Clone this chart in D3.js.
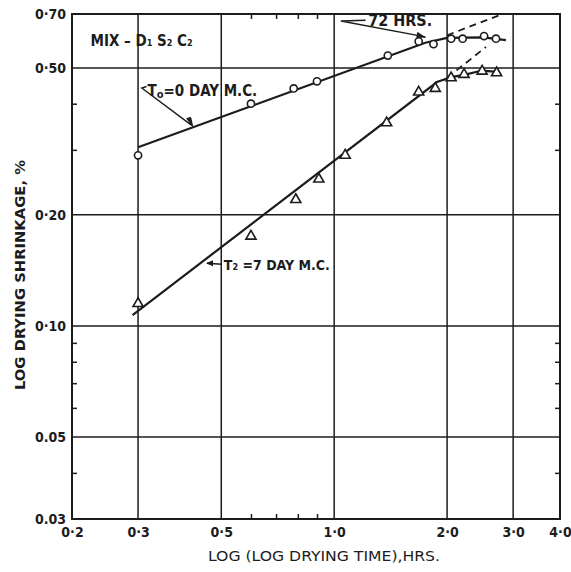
<!DOCTYPE html>
<html>
<head>
    <title>Log drying shrinkage</title>
    <script src="https://cdn.jsdelivr.net/npm/d3@7"></script>
    <style>
        body { margin: 0; background: #fff; }
        text { font-family: "DejaVu Sans Condensed", "DejaVu Sans", sans-serif; fill: #1c1c1c; }
    </style>
</head>
<body>
<script>
    var w = 571;
    var h = 572;

    // axis ticks
    var xTicks = [0.2, 0.3, 0.5, 1.0, 2.0, 3.0, 4.0];
    var xTickLabels = ["0·2", "0·3", "0·5", "1·0", "2·0", "3·0", "4·0"];
    var xGrid = [0.3, 0.5, 1.0, 2.0, 3.0];
    var xMinor = [0.6, 0.7, 0.8, 0.9];
    var yTicks = [0.03, 0.05, 0.10, 0.20, 0.50, 0.70];
    var yTickLabels = ["0.03", "0.05", "0·10", "0·20", "0·50", "0·70"];
    var yGrid = [0.05, 0.10, 0.20, 0.50];
    var yMinor = [0.04, 0.06, 0.07, 0.08, 0.09, 0.3, 0.4];

    // T0 = 0 day M.C. (circles)
    var t0Time   = [0.30, 0.60, 0.78, 0.90, 1.39, 1.68, 1.84, 2.05, 2.20, 2.51, 2.70];
    var t0Shrink = [0.29, 0.40, 0.44, 0.46, 0.54, 0.59, 0.58, 0.60, 0.60, 0.61, 0.60];
    var t0LineTime   = [0.30, 1.75, 2.0, 2.5, 2.87];
    var t0LineShrink = [0.305, 0.585, 0.603, 0.605, 0.595];
    var t0DashTime   = [2.0, 2.81];
    var t0DashShrink = [0.613, 0.70];

    // T2 = 7 day M.C. (triangles)
    var t2Time   = [0.30, 0.60, 0.79, 0.91, 1.07, 1.38, 1.68, 1.86, 2.05, 2.22, 2.48, 2.71];
    var t2Shrink = [0.115, 0.175, 0.22, 0.25, 0.29, 0.355, 0.43, 0.44, 0.47, 0.48, 0.49, 0.485];
    var t2LineTime   = [0.29, 1.88, 2.05, 2.22, 2.48, 2.72];
    var t2LineShrink = [0.107, 0.458, 0.472, 0.479, 0.492, 0.488];
    var t2DashTime   = [2.0, 2.54];
    var t2DashShrink = [0.47, 0.57];

    var ink = "#1c1c1c";

    //scales
    var xScale = d3.scaleLog().domain([0.2, 4.0]).range([72, 560]);
    var yScale = d3.scaleLog().domain([0.03, 0.70]).range([519, 14]);

    var svg = d3.select("body")
                .append("svg")
                .attr("width", w)
                .attr("height", h);

    svg.append("rect").attr("width", w).attr("height", h).attr("fill", "#fff");

    // grid
    svg.selectAll("line.vgrid")
       .data(xGrid)
       .enter()
       .append("line")
       .attr("x1", function(d){return xScale(d);})
       .attr("x2", function(d){return xScale(d);})
       .attr("y1", yScale(0.03))
       .attr("y2", yScale(0.70))
       .attr("stroke", ink)
       .attr("stroke-width", 1.5);
    svg.selectAll("line.hgrid")
       .data(yGrid)
       .enter()
       .append("line")
       .attr("x1", xScale(0.2))
       .attr("x2", xScale(4.0))
       .attr("y1", function(d){return yScale(d);})
       .attr("y2", function(d){return yScale(d);})
       .attr("stroke", ink)
       .attr("stroke-width", 1.5);

    // inner minor ticks
    var tickLen = 5;
    svg.append("g").attr("transform", "translate(0," + yScale(0.03) + ")")
       .call(d3.axisBottom(xScale).tickValues(xMinor).tickSize(-tickLen).tickFormat(""));
    svg.append("g").attr("transform", "translate(0," + yScale(0.70) + ")")
       .call(d3.axisTop(xScale).tickValues(xMinor).tickSize(-tickLen).tickFormat(""));
    svg.append("g").attr("transform", "translate(" + xScale(0.2) + ",0)")
       .call(d3.axisLeft(yScale).tickValues(yMinor).tickSize(-tickLen).tickFormat(""));
    svg.append("g").attr("transform", "translate(" + xScale(4.0) + ",0)")
       .call(d3.axisRight(yScale).tickValues(yMinor).tickSize(-tickLen).tickFormat(""));
    svg.selectAll(".domain").remove();
    svg.selectAll(".tick line").attr("stroke", ink).attr("stroke-width", 1.5);

    // frame
    svg.append("rect")
       .attr("x", xScale(0.2))
       .attr("y", yScale(0.70))
       .attr("width", xScale(4.0) - xScale(0.2))
       .attr("height", yScale(0.03) - yScale(0.70))
       .attr("fill", "none")
       .attr("stroke", ink)
       .attr("stroke-width", 2);

    // tick labels
    var xLab = svg.append("g").attr("transform", "translate(0," + yScale(0.03) + ")")
       .call(d3.axisBottom(xScale).tickValues(xTicks).tickSize(0).tickPadding(8)
               .tickFormat(function(d, i){return xTickLabels[i];}));
    var yLab = svg.append("g").attr("transform", "translate(" + xScale(0.2) + ",0)")
       .call(d3.axisLeft(yScale).tickValues(yTicks).tickSize(0).tickPadding(6)
               .tickFormat(function(d, i){return yTickLabels[i];}));
    xLab.select(".domain").remove();
    yLab.select(".domain").remove();
    svg.selectAll(".tick text")
       .attr("font-family", "'DejaVu Sans Condensed', 'DejaVu Sans', sans-serif")
       .attr("font-size", 14)
       .attr("font-weight", "bold")
       .attr("fill", ink);

    // axis titles
    svg.append("text")
       .attr("x", 324)
       .attr("y", 561)
       .attr("text-anchor", "middle")
       .attr("font-size", 14)
       .attr("textLength", 232)
       .attr("lengthAdjust", "spacingAndGlyphs")
       .text("LOG (LOG DRYING TIME),HRS.");
    svg.append("text")
       .attr("transform", "translate(25,275) rotate(-90)")
       .attr("text-anchor", "middle")
       .attr("font-size", 14)
       .attr("font-weight", "bold")
       .attr("textLength", 230)
       .attr("lengthAdjust", "spacingAndGlyphs")
       .text("LOG DRYING SHRINKAGE, %");

    // lines
    var line = d3.line()
                 .x(function(d){return xScale(d[0]);})
                 .y(function(d){return yScale(d[1]);});
    function pairs(a, b){ return a.map(function(v, i){return [v, b[i]];}); }

    svg.append("path").datum(pairs(t0LineTime, t0LineShrink))
       .attr("d", line).attr("fill", "none").attr("stroke", ink).attr("stroke-width", 2.2);
    svg.append("path").datum(pairs(t2LineTime, t2LineShrink))
       .attr("d", line).attr("fill", "none").attr("stroke", ink).attr("stroke-width", 2.2);
    svg.append("path").datum(pairs(t0DashTime, t0DashShrink))
       .attr("d", line).attr("fill", "none").attr("stroke", ink).attr("stroke-width", 1.8)
       .attr("stroke-dasharray", "7,5");
    svg.append("path").datum(pairs(t2DashTime, t2DashShrink))
       .attr("d", line).attr("fill", "none").attr("stroke", ink).attr("stroke-width", 1.8)
       .attr("stroke-dasharray", "7,5");

    // markers
    svg.selectAll("circle.t0")
       .data(pairs(t0Time, t0Shrink))
       .enter()
       .append("circle")
       .attr("cx", function(d){return xScale(d[0]);})
       .attr("cy", function(d){return yScale(d[1]);})
       .attr("r", 3.6)
       .attr("fill", "#fff")
       .attr("stroke", ink)
       .attr("stroke-width", 1.6);
    svg.selectAll("path.t2")
       .data(pairs(t2Time, t2Shrink))
       .enter()
       .append("path")
       .attr("d", d3.symbol().type(d3.symbolTriangle).size(44))
       .attr("transform", function(d){return "translate(" + xScale(d[0]) + "," + yScale(d[1]) + ")";})
       .attr("fill", "#fff")
       .attr("stroke", ink)
       .attr("stroke-width", 1.6);

    // annotations
    function ax(x){return xScale(x);}
    function ay(y){return yScale(y);}

    var mix = svg.append("text").attr("x", ax(0.224)).attr("y", ay(0.595) + 6)
                 .attr("font-size", 15).attr("font-weight", "bold");
    mix.append("tspan").text("MIX – D");
    mix.append("tspan").attr("font-size", 9).text("1");
    mix.append("tspan").text(" S");
    mix.append("tspan").attr("font-size", 9).text("2");
    mix.append("tspan").text(" C");
    mix.append("tspan").attr("font-size", 9).text("2");

    // T0 label and pointer
    var t0Lab = svg.append("text").attr("x", ax(0.318)).attr("y", ay(0.437) + 6)
                   .attr("font-size", 15).attr("font-weight", "bold");
    t0Lab.append("tspan").text("T");
    t0Lab.append("tspan").attr("font-size", 11).attr("dy", 2).text("o");
    t0Lab.append("tspan").attr("dy", -2).text("=0 DAY M.C.");
    svg.append("path")
       .attr("d", "M" + (ax(0.318) - 1) + "," + (ay(0.437) - 3) +
                  "L" + ax(0.307) + "," + ay(0.441) +
                  "L" + ax(0.417) + "," + (ay(0.345) - 2))
       .attr("fill", "none").attr("stroke", ink).attr("stroke-width", 1.4);
    svg.append("path")
       .attr("d", "M" + (ax(0.417) - 5) + "," + (ay(0.345) - 9) +
                  "L" + (ax(0.417) + 1) + "," + (ay(0.345) - 1) +
                  "L" + (ax(0.417) - 1) + "," + (ay(0.345) - 10) + "Z")
       .attr("fill", ink).attr("stroke", ink).attr("stroke-width", 1);

    // T2 label and pointer
    var t2Lab = svg.append("text").attr("x", ax(0.508)).attr("y", ay(0.147) + 6)
                   .attr("font-size", 14).attr("font-weight", "bold");
    t2Lab.append("tspan").text("T");
    t2Lab.append("tspan").attr("font-size", 9).text("2");
    t2Lab.append("tspan").text(" =7 DAY  M.C.");
    svg.append("line")
       .attr("x1", ax(0.502)).attr("y1", ay(0.147))
       .attr("x2", ax(0.458)).attr("y2", ay(0.147) - 1)
       .attr("stroke", ink).attr("stroke-width", 1.4);
    svg.append("path")
       .attr("d", "M" + (ax(0.458) - 1) + "," + (ay(0.147) - 1) +
                  "L" + (ax(0.458) + 6) + "," + (ay(0.147) - 4) +
                  "L" + (ax(0.458) + 6) + "," + (ay(0.147) + 2) + "Z")
       .attr("fill", ink);

    // 72 hrs label and pointer
    svg.append("text").attr("x", ax(1.232)).attr("y", ay(0.678) + 7)
       .attr("font-size", 16).attr("font-weight", "bold")
       .text("72 HRS.");
    svg.append("path")
       .attr("d", "M" + ax(1.213) + "," + ay(0.673) +
                  "L" + ax(1.042) + "," + ay(0.670) +
                  "L" + ax(1.75) + "," + ay(0.607))
       .attr("fill", "none").attr("stroke", ink).attr("stroke-width", 1.4);
    svg.append("path")
       .attr("d", "M" + (ax(1.75) + 1) + "," + (ay(0.607) + 1) +
                  "L" + (ax(1.75) - 8) + "," + (ay(0.607) - 5) +
                  "L" + (ax(1.75) - 9) + "," + (ay(0.607) + 1) + "Z")
       .attr("fill", ink);
</script>
</body>
</html>
